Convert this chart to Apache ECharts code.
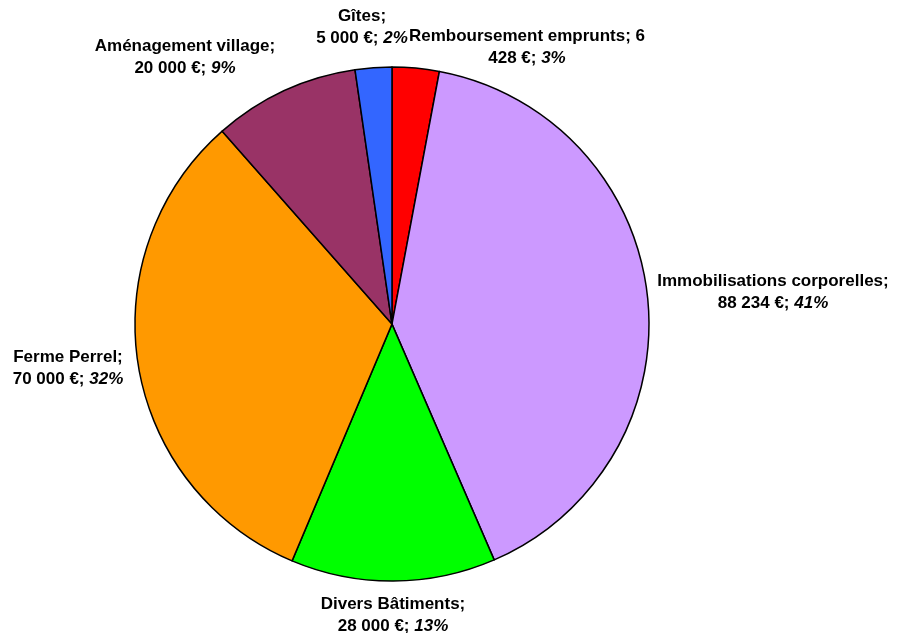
<!DOCTYPE html>
<html>
<head>
<meta charset="utf-8">
<script src="https://cdn.jsdelivr.net/npm/echarts@6/dist/echarts.min.js"></script>
<style>html,body{margin:0;padding:0;background:#fff}#c{width:898px;height:633px}</style>
</head>
<body>
<div id="c"></div>
<script>
const categories = ['Remboursement emprunts', 'Immobilisations corporelles', 'Divers Bâtiments', 'Ferme Perrel', 'Aménagement village', 'Gîtes'];
const values = [6428, 88234, 28000, 70000, 20000, 5000];
const colors = ['#FF0000', '#CC99FF', '#00FF00', '#FF9900', '#993366', '#3366FF'];
// label block centre, as offset from the pie centre (px) - layout only
const labelOffsets = [[135, -277], [381, -32], [1, 291], [-324, 44], [-207, -267], [-30, -297]];

const total = values.reduce((a, b) => a + b, 0);
function fmtNum(v) { return String(v).replace(/\B(?=(\d{3})+(?!\d))/g, ' '); }

const CX = 0.4365, CY = 0.512;
const FONT = 'Liberation Sans, Arial, sans-serif';
const FS = 17;

const chart = echarts.init(document.getElementById('c'), null, { renderer: 'canvas' });
chart.setOption({
  backgroundColor: '#fff',
  animation: false,
  series: [{
    type: 'pie',
    center: [(CX * 100) + '%', (CY * 100) + '%'],
    radius: 257,
    startAngle: 90,
    clockwise: true,
    data: categories.map((n, i) => ({ name: n, value: values[i], itemStyle: { color: colors[i] } })),
    itemStyle: { borderColor: '#000', borderWidth: 1.5 },
    label: {
      show: true,
      position: 'outside',
      alignTo: 'none',
      overflow: 'none',
      edgeDistance: 0,
      fontFamily: FONT,
      fontWeight: 'bold',
      fontSize: FS,
      color: '#000',
      lineHeight: 22,
      formatter: function (p) {
        const pct = Math.round(p.value / total * 100) + '%';
        const num = fmtNum(p.value);
        if (p.name === 'Remboursement emprunts') {
          const parts = num.split(' ');
          return '{b|' + p.name + '; ' + parts[0] + '}\n{b|' + parts.slice(1).join(' ') + ' €; }{i|' + pct + '}';
        }
        return '{b|' + p.name + ';}\n{b|' + num + ' €; }{i|' + pct + '}';
      },
      rich: {
        b: { fontFamily: FONT, fontWeight: 'bold', fontSize: FS, color: '#000', lineHeight: 22 },
        i: { fontFamily: FONT, fontWeight: 'bold', fontStyle: 'italic', fontSize: FS, color: '#000', lineHeight: 22 }
      }
    },
    labelLine: { show: false },
    labelLayout: function (params) {
      const o = labelOffsets[params.dataIndex];
      return {
        x: chart.getWidth() * CX + o[0],
        y: chart.getHeight() * CY + o[1],
        align: 'center',
        verticalAlign: 'middle'
      };
    }
  }]
});
</script>
</body>
</html>
